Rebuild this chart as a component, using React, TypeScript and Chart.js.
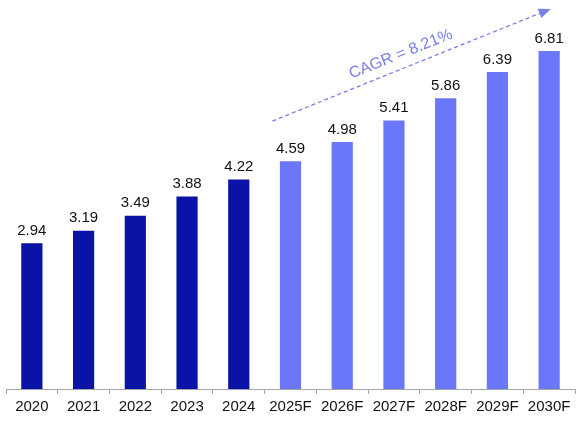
import { useEffect, useRef } from "react"
import { Chart, registerables } from "chart.js"
import type { Plugin } from "chart.js"

Chart.register(...registerables)

const years = ["2020", "2021", "2022", "2023", "2024", "2025F", "2026F", "2027F", "2028F", "2029F", "2030F"]
const marketValues = [2.94, 3.19, 3.49, 3.88, 4.22, 4.59, 4.98, 5.41, 5.86, 6.39, 6.81]
const isForecast = [false, false, false, false, false, true, true, true, true, true, true]
const cagrLabel = "CAGR = 8.21%"

const DARK = "#0B13A7"
const LIGHT = "#6A77F9"
const ARROW = "#7880E8"
const FONT = "Arial, 'Liberation Sans', sans-serif"

// value labels above each bar
const valueLabels: Plugin<"bar"> = {
  id: "valueLabels",
  afterDatasetsDraw(chart) {
    const { ctx } = chart
    const meta = chart.getDatasetMeta(0)
    ctx.save()
    ctx.font = `15px ${FONT}`
    ctx.fillStyle = "#111111"
    ctx.textAlign = "center"
    ctx.textBaseline = "bottom"
    meta.data.forEach((bar, i) => {
      ctx.fillText(marketValues[i].toFixed(2), bar.x, bar.y - 5)
    })
    ctx.restore()
  },
}

// dashed CAGR arrow over the forecast bars
const cagrArrow: Plugin<"bar"> = {
  id: "cagrArrow",
  afterDraw(chart) {
    const { ctx } = chart
    const x = chart.scales.x
    const y = chart.scales.y
    const x0 = x.getPixelForValue(4.65)
    const y0 = y.getPixelForValue(5.4)
    const x1 = x.getPixelForValue(10.03)
    const y1 = y.getPixelForValue(7.66)
    const angle = Math.atan2(y1 - y0, x1 - x0)

    ctx.save()
    ctx.strokeStyle = ARROW
    ctx.fillStyle = ARROW
    ctx.lineWidth = 1.3
    ctx.setLineDash([4, 3])
    ctx.beginPath()
    ctx.moveTo(x0, y0)
    ctx.lineTo(x1 - 10 * Math.cos(angle), y1 - 10 * Math.sin(angle))
    ctx.stroke()
    ctx.setLineDash([])
    ctx.beginPath()
    ctx.moveTo(x1, y1)
    ctx.lineTo(x1 - 12 * Math.cos(angle) + 5 * Math.sin(angle), y1 - 12 * Math.sin(angle) - 5 * Math.cos(angle))
    ctx.lineTo(x1 - 12 * Math.cos(angle) - 5 * Math.sin(angle), y1 - 12 * Math.sin(angle) + 5 * Math.cos(angle))
    ctx.closePath()
    ctx.fill()

    const tx = x0 + (x1 - x0) * 0.48 + 14 * Math.sin(angle)
    const ty = y0 + (y1 - y0) * 0.48 - 14 * Math.cos(angle)
    ctx.translate(tx, ty)
    ctx.rotate(angle)
    ctx.font = `16px ${FONT}`
    ctx.textAlign = "center"
    ctx.textBaseline = "middle"
    ctx.fillText(cagrLabel, 0, 0)
    ctx.restore()
  },
}

function MarketChart() {
  const chartRef = useRef<HTMLCanvasElement>(null)
  const chartInstance = useRef<Chart | null>(null)

  useEffect(() => {
    if (!chartRef.current) return
    if (chartInstance.current) chartInstance.current.destroy()

    chartInstance.current = new Chart(chartRef.current, {
      type: "bar",
      data: {
        labels: years,
        datasets: [
          {
            data: marketValues,
            backgroundColor: isForecast.map((f) => (f ? LIGHT : DARK)),
            categoryPercentage: 1,
            barPercentage: 0.41,
          },
        ],
      },
      options: {
        animation: false,
        responsive: true,
        maintainAspectRatio: false,
        layout: { padding: { left: 6, right: 6, top: 0, bottom: 0 } },
        plugins: {
          legend: { display: false },
          tooltip: { enabled: false },
        },
        scales: {
          x: {
            afterFit: (axis) => {
              axis.height = 33
            },
            border: { display: true, color: "#A6A6A6", width: 1 },
            grid: {
              display: true,
              drawOnChartArea: false,
              drawTicks: true,
              tickLength: 5,
              color: "#A6A6A6",
              offset: true,
            },
            ticks: {
              color: "#111111",
              padding: 4,
              maxRotation: 0,
              font: { family: FONT, size: 15 },
            },
          },
          y: {
            display: false,
            min: 0,
            max: 7.84,
          },
        },
      },
      plugins: [valueLabels, cagrArrow],
    })

    return () => {
      if (chartInstance.current) {
        chartInstance.current.destroy()
        chartInstance.current = null
      }
    }
  }, [])

  return (
    <div style={{ position: "fixed", left: 0, top: 0, width: 581, height: 422, background: "#fff" }}>
      <canvas ref={chartRef} />
    </div>
  )
}

export default function App() {
  return <MarketChart />
}
